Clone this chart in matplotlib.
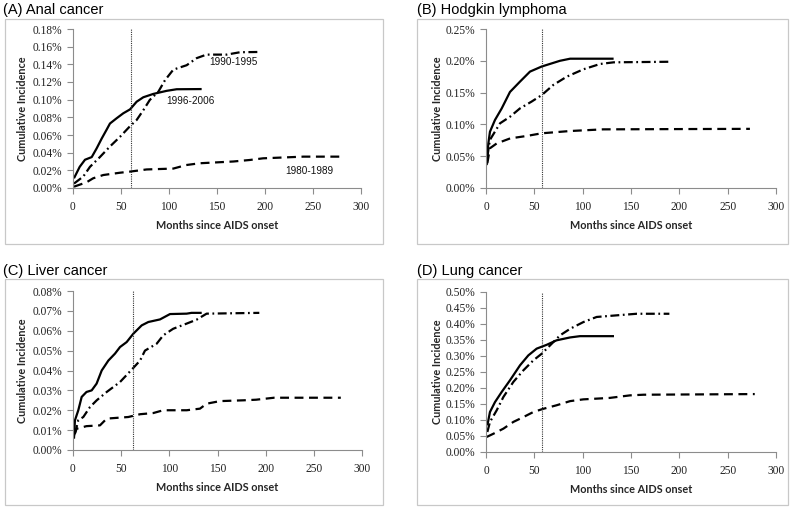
import matplotlib
matplotlib.use("Agg")
import matplotlib.pyplot as plt
from matplotlib.patches import Rectangle
from matplotlib.ticker import FuncFormatter, MultipleLocator

# ---------------- data (months since AIDS onset, cumulative incidence in %) ----------------
anal_8089_x = [1, 14, 21, 31.6, 49, 59, 76.7, 104.5, 118, 132, 167, 184, 198, 240, 278]
anal_8089_y = [0.0015, 0.0064, 0.011, 0.0147, 0.0173, 0.0185, 0.021, 0.022, 0.026, 0.028, 0.030, 0.0317, 0.0336, 0.0355, 0.0355]
anal_9095_x = [1, 10.7, 17.7, 28, 38.5, 49, 59.4, 66.3, 73.2, 80, 88.9, 95.8, 104.5, 118.4, 128.8, 139, 160, 174, 194]
anal_9095_y = [0.005, 0.013, 0.024, 0.035, 0.047, 0.058, 0.070, 0.077, 0.088, 0.0997, 0.109, 0.122, 0.134, 0.139, 0.147, 0.151, 0.151, 0.1537, 0.154]
anal_9606_x = [1, 7, 12.5, 19.5, 24.7, 29.9, 35, 38.5, 45.5, 52.4, 59.4, 66.3, 73.2, 83.6, 97.6, 108, 134]
anal_9606_y = [0.011, 0.024, 0.032, 0.035, 0.045, 0.056, 0.066, 0.073, 0.079, 0.0846, 0.089, 0.0977, 0.1027, 0.1065, 0.110, 0.1118, 0.112]

hodg_8089_x = [1.4, 4, 11, 25, 42, 57.6, 87, 121, 190, 273]
hodg_8089_y = [0.039, 0.0624, 0.070, 0.078, 0.0818, 0.086, 0.0896, 0.0922, 0.0926, 0.093]
hodg_9095_x = [1.4, 4, 14.5, 24.8, 35, 47, 57.6, 69.6, 83.5, 100.7, 118, 132, 190]
hodg_9095_y = [0.049, 0.0755, 0.1017, 0.112, 0.125, 0.1357, 0.146, 0.162, 0.175, 0.1866, 0.195, 0.1976, 0.1985]
hodg_9606_x = [0.7, 2.4, 4.1, 9.3, 16.2, 24.8, 35, 45.5, 57.6, 76.5, 87, 132]
hodg_9606_y = [0.036, 0.070, 0.0885, 0.107, 0.125, 0.151, 0.167, 0.183, 0.191, 0.200, 0.2033, 0.2033]

liver_8089_x = [1, 3.8, 14, 28, 35, 57.4, 69.6, 83.4, 93.7, 118, 131.8, 138.7, 152.6, 177, 190, 208.7, 278]
liver_8089_y = [0.0074, 0.0107, 0.012, 0.0124, 0.0158, 0.0166, 0.018, 0.0186, 0.020, 0.020, 0.0208, 0.0233, 0.0246, 0.025, 0.0253, 0.0263, 0.0263]
liver_9095_x = [2, 5.5, 10.7, 17.6, 24.6, 35, 48.8, 62.6, 69.6, 74.7, 86.9, 93.7, 104, 118, 128.4, 138.7, 193.4]
liver_9095_y = [0.0082, 0.015, 0.0166, 0.0216, 0.025, 0.0292, 0.0342, 0.0413, 0.045, 0.050, 0.0535, 0.0577, 0.061, 0.0636, 0.0656, 0.0686, 0.069]
liver_9606_x = [1, 2, 5.5, 9, 14, 19.4, 24.5, 29.8, 36.7, 43.6, 48.8, 55.7, 62.6, 71.3, 78.2, 90.3, 100.7, 118, 123, 133.6]
liver_9606_y = [0.0057, 0.0149, 0.020, 0.0267, 0.0292, 0.030, 0.0334, 0.040, 0.045, 0.0485, 0.0518, 0.0543, 0.0585, 0.0627, 0.0644, 0.0657, 0.0684, 0.0686, 0.069, 0.069]

lung_8089_x = [0.7, 7.6, 18, 28.3, 38.6, 49, 59.3, 73, 87, 100.7, 128, 149, 163, 278]
lung_8089_y = [0.047, 0.057, 0.073, 0.094, 0.109, 0.125, 0.135, 0.146, 0.159, 0.1645, 0.169, 0.177, 0.179, 0.181]
lung_9095_x = [1.4, 4.1, 11, 18, 28.3, 38.6, 49, 57.6, 66.2, 76.6, 87, 100.7, 114.5, 135, 155.9, 189.7]
lung_9095_y = [0.0625, 0.094, 0.130, 0.172, 0.219, 0.255, 0.2865, 0.307, 0.333, 0.3645, 0.385, 0.406, 0.422, 0.427, 0.432, 0.432]
lung_9606_x = [1.4, 4.1, 9.3, 16.2, 24.8, 35.2, 43.8, 52.4, 62.8, 73, 87, 97.2, 132.4]
lung_9606_y = [0.083, 0.125, 0.156, 0.1875, 0.224, 0.271, 0.302, 0.323, 0.335, 0.349, 0.358, 0.362, 0.362]

panel_titles = ["(A) Anal cancer", "(B) Hodgkin lymphoma", "(C) Liver cancer", "(D) Lung cancer"]
y_max = [0.18, 0.25, 0.08, 0.50]
y_step = [0.02, 0.05, 0.01, 0.05]
vline_month = [60, 58, 62.6, 57.6]
period_labels = ["1980-1989", "1990-1995", "1996-2006"]
anal_label_x = [221, 142, 97]
anal_label_y = [0.0193, 0.1427, 0.0985]

x_label = "Months since AIDS onset"
y_label = "Cumulative Incidence"

# ---------------- figure ----------------
W, H = 800, 514
fig = plt.figure(figsize=(W / 100, H / 100), dpi=100)

def fx(px):
    return px / W

def fy(py):
    return 1 - py / H

# axes pixel boxes: (left, right, top, bottom)
boxes = [(73, 361, 29, 188), (486, 776, 29, 188), (73, 362, 291, 450), (486, 776, 292, 452)]
frames = [(5, 383, 19, 244), (417, 788, 19, 244), (5, 383, 279, 505), (417, 788, 279, 505)]
title_pos = [(3, 10), (417, 10), (3, 271), (417, 271)]
ylab_x = [-0.175, -0.168, -0.175, -0.168]

series = [
    [(anal_8089_x, anal_8089_y), (anal_9095_x, anal_9095_y), (anal_9606_x, anal_9606_y)],
    [(hodg_8089_x, hodg_8089_y), (hodg_9095_x, hodg_9095_y), (hodg_9606_x, hodg_9606_y)],
    [(liver_8089_x, liver_8089_y), (liver_9095_x, liver_9095_y), (liver_9606_x, liver_9606_y)],
    [(lung_8089_x, lung_8089_y), (lung_9095_x, lung_9095_y), (lung_9606_x, lung_9606_y)],
]
styles = [(0, (4, 2.5)), (0, (4, 1.6, 0.8, 1.6)), "-"]

axis_col = "#8c8c8c"
frame_col = "#c8c8c8"
tick_font = "Liberation Serif"
lab_font = "Lato"

for i in range(4):
    l, r, t, b = boxes[i]
    ax = fig.add_axes([fx(l), fy(b), (r - l) / W, (b - t) / H])
    for (xs, ys), ls in zip(series[i], styles):
        ax.plot(xs, ys, color="black", lw=1.6, linestyle=ls, solid_capstyle="butt",
                dash_capstyle="butt")
    ax.axvline(vline_month[i], color="#333333", lw=0.8, linestyle=(0, (1, 1)))
    ax.set_xlim(0, 300)
    ax.set_ylim(0, y_max[i])
    ax.xaxis.set_major_locator(MultipleLocator(50))
    ax.yaxis.set_major_locator(MultipleLocator(y_step[i]))
    ax.yaxis.set_major_formatter(FuncFormatter(lambda v, p: f"{v:.2f}%"))
    for s in ["top", "right"]:
        ax.spines[s].set_visible(False)
    for s in ["left", "bottom"]:
        ax.spines[s].set_color(axis_col)
        ax.spines[s].set_linewidth(0.8)
    ax.tick_params(axis="both", direction="out", length=4, width=0.8, color=axis_col,
                   labelsize=8.3, labelcolor="#222222")
    ax.tick_params(axis="y", pad=3.5)
    ax.tick_params(axis="x", pad=5.5)
    for lab in ax.get_xticklabels() + ax.get_yticklabels():
        lab.set_fontfamily(tick_font)
    ax.set_xlabel(x_label, fontfamily=lab_font, fontsize=7.8, fontweight="bold", color="#262626")
    ax.set_ylabel(y_label, fontfamily=lab_font, fontsize=7.8, fontweight="bold", color="#262626")
    ax.xaxis.set_label_coords(0.5, -0.235)
    ax.xaxis.label.set_va("center")
    ax.yaxis.set_label_coords(ylab_x[i], 0.5)
    ax.yaxis.label.set_va("center")
    ax.patch.set_visible(False)

    if i == 0:
        for name, lx, ly in zip(period_labels, anal_label_x, anal_label_y):
            ax.text(lx, ly, name, fontfamily="Liberation Sans", fontsize=7.2,
                    ha="left", va="center", color="#111111")

    x0, x1, y0, y1 = frames[i]
    fig.add_artist(Rectangle((fx(x0), fy(y1)), (x1 - x0) / W, (y1 - y0) / H,
                             transform=fig.transFigure, fill=False,
                             edgecolor=frame_col, lw=0.9))
    tx, ty = title_pos[i]
    fig.text(fx(tx), fy(ty), panel_titles[i], fontfamily="Liberation Sans", fontsize=10.5,
             ha="left", va="center", color="black")

fig.savefig("out.png", dpi=100, facecolor="white")
